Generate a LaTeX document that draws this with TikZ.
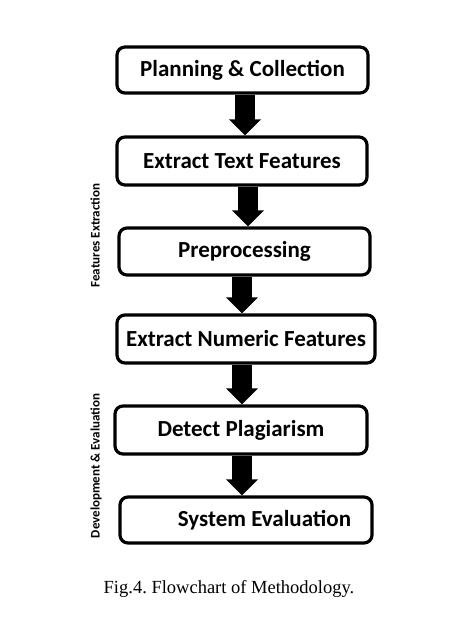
\documentclass[tikz,border=0pt]{standalone}
\usepackage{fontspec}
\setmainfont{Liberation Serif}
\newfontfamily\boxfont{Carlito}
\usetikzlibrary{arrows.meta}
\frenchspacing
\begin{document}
\begin{tikzpicture}[x=1pt,y=-1pt,
  stepbox/.style={draw=black, line width=3.2pt, rounded corners=8pt, fill=white,
    inner sep=0pt, font=\boxfont\bfseries\fontsize{23}{26}\selectfont},
  flow/.style={line width=20pt, -{Triangle[width=31pt,length=16pt]}},
  sidelabel/.style={rotate=90, font=\boxfont\bfseries\fontsize{13}{15}\selectfont},
  caption/.style={font=\fontsize{18.5}{21}\selectfont}]
\useasboundingbox (0,0) rectangle (472,626);
\node[stepbox, minimum width=251pt, minimum height=46pt] (plan) at (242.5,70) {Planning \& Collection};
\node[stepbox, minimum width=250pt, minimum height=48pt] (ext) at (242,161) {Extract Text Features};
\node[stepbox, minimum width=251pt, minimum height=47pt] (pre) at (244.5,251.5) {Preprocessing};
\node[stepbox, minimum width=258pt, minimum height=48pt] (num) at (246,339) {Extract Numeric Features};
\node[stepbox, minimum width=252pt, minimum height=48pt] (det) at (241,430) {Detect Plagiarism};
\node[stepbox, minimum width=252pt, minimum height=46pt] (sys) at (246,520) {\hspace*{37pt}System Evaluation};
\draw[flow] (plan.south -| 245,0) -- (ext.north -| 245,0);
\draw[flow] (ext.south -| 248,0) -- (pre.north -| 248,0);
\draw[flow] (pre.south -| 242,0) -- (num.north -| 242,0);
\draw[flow] (num.south -| 242,0) -- (det.north -| 242,0);
\draw[flow] (det.south -| 242,0) -- (sys.north -| 242,0);
\node[sidelabel] (fe) at (95,235.5) {Features Extraction};
\node[sidelabel] (de) at (96,466) {Development \& Evaluation};
\node[caption] (cap) at (229,589) {Fig.4. Flowchart of Methodology.};
\end{tikzpicture}
\end{document}
